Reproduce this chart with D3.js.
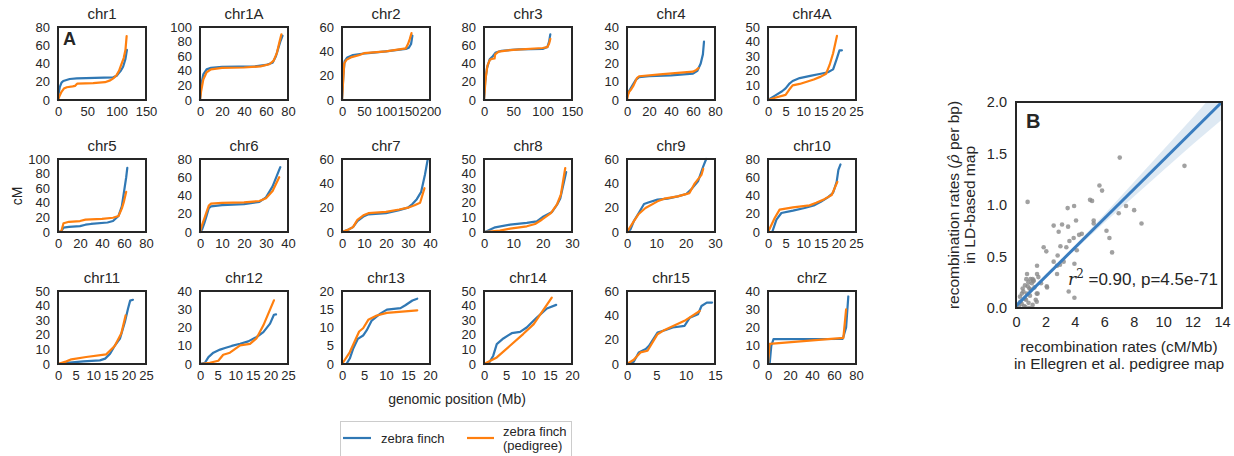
<!DOCTYPE html>
<html>
<head>
<meta charset="utf-8">
<script src="https://cdn.jsdelivr.net/npm/d3@7"></script>
<style>
  body { margin: 0; background: #fff; }
  svg text { font-family: "Liberation Sans", Arial, sans-serif; fill: #262626; }
</style>
</head>
<body>
<svg id="fig" width="1234" height="456"></svg>
<script>
// ---- Panel A: genetic map (cM) vs physical position (Mb) per chromosome ----
const chromosomes = ["chr1", "chr1A", "chr2", "chr3", "chr4", "chr4A",
                     "chr5", "chr6", "chr7", "chr8", "chr9", "chr10",
                     "chr11", "chr12", "chr13", "chr14", "chr15", "chrZ"];
const xMax  = [150, 80, 200, 150, 80, 25, 80, 40, 40, 30, 30, 25, 25, 25, 20, 20, 15, 80];
const xStep = [50, 20, 50, 50, 20, 5, 20, 10, 10, 10, 10, 5, 5, 5, 5, 5, 5, 20];
const yMax  = [80, 100, 60, 80, 40, 50, 100, 80, 60, 50, 60, 80, 50, 40, 20, 50, 60, 40];
const yStep = [20, 20, 20, 20, 10, 10, 20, 20, 20, 10, 20, 20, 10, 10, 5, 10, 20, 10];

// LD-based map, [Mb, cM]
const ldMap = [
  [[0,0],[1,7],[3,14],[6,19],[9,20.8],[20,23],[32,23.7],[94,24.8],[100,26.5],[103,29],[107,32],[111,36.5],[115,45],[117.5,55]],
  [[0,0],[1,20],[3,35],[6,42],[10,44],[20,45.5],[50,46],[60,48],[66,51],[69,60],[71,70],[73,80],[75,88]],
  [[0,0],[3,20],[6,32],[12,35],[25,37],[45,38],[60,38.5],[100,40],[145,42],[152,43],[157,46],[160,53]],
  [[0,0],[2,20],[5,35],[10,45],[15,48],[20,52],[30,54],[60,55.5],[100,56],[108,58],[111,64],[113,72]],
  [[0,2],[2,5],[5,8],[8,11],[11,12.5],[20,13],[40,13.5],[60,14.5],[64,16],[67,20],[69,25],[70,32]],
  [[0,0],[2,3],[4,6],[5,8],[6,11],[7,13],[9,15],[12,16.5],[15,18],[17,19],[18.5,21],[19.5,28],[20.3,34],[21,34]],
  [[0,0],[3,1],[5,6],[10,7],[20,8],[25,10],[30,11],[45,13],[50,15],[55,22],[58,35],[60,55],[62,75],[63,88]],
  [[0,0],[1,3],[2,10],[3,18],[4,26],[5,28],[10,29.5],[20,30.5],[27,33],[30,38],[33,50],[35,62],[36.5,71]],
  [[0,0],[3,2],[5,4],[7,9],[10,13],[12,14.5],[20,15.5],[26,18],[30,20],[32,23],[34,27],[36,33],[37.7,47],[39,60]],
  [[0,0],[0.9,0.5],[3.8,3.2],[8.9,5],[14.6,6.2],[18,7.3],[20.3,10.7],[23.2,13.7],[24.9,18.7],[26,23],[28,41]],
  [[0,0],[1.15,1.9],[2.3,8.8],[4,15.6],[5.8,23],[7.5,24.4],[10.4,26.6],[13.8,27.4],[17.3,29.3],[20.2,31.2],[21.9,35],[24.2,41.6],[26,54],[27,60]],
  [[0,0],[1.2,0],[2.4,13.5],[3.8,20.8],[7.1,23.4],[10.4,26.3],[13,29],[15,33],[17,38],[18.5,43],[19.5,55],[20,68],[20.6,74]],
  [[0,0],[3.3,0.9],[7.2,1.8],[11.9,2.5],[13.4,3.7],[14.8,7],[16.2,12.8],[17.6,17.4],[19,28.8],[19.9,38],[20.5,43.4],[21.3,44]],
  [[0,0],[1.4,0.7],[2.4,3.8],[3.8,6.2],[5.7,7.9],[7.1,8.8],[9,9.9],[11.4,11.1],[13.7,12.4],[16.1,14.8],[18,17.5],[19.9,22.1],[21,27],[21.6,27.2]],
  [[0,0],[1,0],[1.77,1.5],[2.5,4.1],[3.6,6.9],[4.8,7.8],[5.6,9.2],[6.75,11.9],[8.7,13.8],[10.2,14.9],[13.3,15.3],[14.4,16.1],[16,17.4],[17.1,17.9]],
  [[0,0],[1,0],[2.1,5.7],[2.9,13.6],[4.4,17.5],[6.3,21.1],[8.2,22],[9.7,25],[12,31.8],[14.3,38],[16.4,40.5]],
  [[0,0],[1.15,1.9],[2,9.5],[3.2,12.3],[3.75,15],[5.2,25.9],[6.6,28],[7.8,30],[9.8,31.4],[10.7,38],[12.1,40.9],[12.7,47.7],[13.6,50.5],[14.5,50.5]],
  [[0,0],[1.5,0],[3,10],[5,13.6],[68,13.8],[71,20],[73,37]]
];

// Pedigree map, [Mb, cM]
const pedigreeMap = [
  [[0,0],[3,5],[6,9],[10,12.5],[15,14],[25,15],[29,15.5],[33,18],[60,18.5],[80,19.5],[89,21.5],[95,24],[100,27.5],[104,32],[108,39],[112,46],[115,55],[117,70]],
  [[0,0],[1,12],[3,28],[6,38],[10,42],[20,44],[40,44.5],[55,46],[63,49],[67,54],[70,65],[72,78],[74,90]],
  [[0,0],[5,30],[10,33],[20,35],[40,37],[50,38.5],[100,40],[145,42.5],[150,46],[154,50],[158,55]],
  [[0,0],[3,25],[6,38],[10,44],[13,45],[18,45.5],[19,50],[25,53],[50,55],[100,57],[108,58],[111,62],[113,67]],
  [[0,0],[1,3],[2,4.5],[4,6],[6,8],[9,12],[11,13],[30,14],[60,15.5],[63,16.5],[65,17.5]],
  [[0,0],[2,1.5],[5,3.5],[6,7],[7,10],[9,11],[11,12.5],[13,14],[15,16],[16.5,18],[17.5,24],[18.5,32],[19.6,44]],
  [[0,0],[3,1],[5,12],[10,14],[20,15],[25,17],[40,18],[50,19.5],[55,22],[58,32],[60,42],[62,55]],
  [[0,0],[1,8],[2,15],[3,22],[4,29],[5,31],[10,32],[20,32.5],[27,34],[30,37],[33,45],[36,60]],
  [[0,0],[3,2],[5,4],[7,10],[10,14],[12,15.5],[20,16.5],[26,18.5],[30,20],[33,22],[35.5,24],[36.5,30],[37.5,36]],
  [[0,0],[5.4,0.9],[8.9,2.3],[14.6,3.9],[17.4,5.5],[19.7,8.4],[22.8,13],[24.9,19],[26.2,25.6],[27.7,43.8]],
  [[0,0],[2.3,8.8],[4,14.8],[6.3,19.7],[10.4,25.2],[12.7,27.4],[17.3,29.3],[21.3,32],[23.1,40],[25.4,47],[26,52]],
  [[0,0],[1,8],[1.9,15.3],[3.3,24.5],[7.1,27],[11.8,29.2],[13.7,32],[16,36],[18.1,40.5],[19.7,55]],
  [[0,0],[2.4,1.8],[3.8,3.2],[8,4.8],[13.7,6.6],[16.1,12.3],[18,21],[19.2,33.3]],
  [[0,0],[2.8,0.7],[5.2,1.8],[6.6,5.1],[8.5,6.2],[11.4,10.2],[14.2,11],[16.1,14.2],[18,21.2],[21,34.9]],
  [[0,0],[1.76,3.2],[3.9,8.9],[4.8,9.8],[5.97,12.1],[7.9,13.3],[10.2,14],[17.1,14.7]],
  [[0,0],[2.9,4.5],[5.9,12.5],[8.9,20.5],[11.3,27.3],[12.8,34],[15.4,45.5]],
  [[0,0],[1.15,3.5],[2.3,9.5],[3.5,10.9],[5.2,24.5],[6.4,28],[9.8,35.5],[12.4,43.6]],
  [[0,0],[1.5,11],[68.5,14.3],[71,30]]
];

const seriesNames = ["zebra finch", "zebra finch\n(pedigree)"];

// ---- Panel B: recombination rate comparison ----
// [pedigree cM/Mb, LD-based rho per bp]
const ratePoints = [
  [0.79,1.03],[7.05,1.46],[11.45,1.38],[5.67,1.19],[5.85,1.14],[5.03,1.05],[5.17,1.04],[3.95,0.99],
  [3.51,0.97],[7.48,0.99],[8.03,0.95],[6.98,0.92],[5.28,0.85],[4.08,0.85],[8.53,0.82],[5.28,0.82],
  [2.56,0.80],[3.13,0.81],[3.54,0.79],[6.15,0.75],[6.35,0.68],[6.53,0.54],[4.47,0.72],[4.29,0.71],
  [3.92,0.68],[2.90,0.74],[1.88,0.59],[2.06,0.55],[3.02,0.60],[3.42,0.59],[3.63,0.65],[4.13,0.56],
  [2.83,0.51],[2.56,0.45],[2.79,0.41],[3.97,0.43],[3.24,0.45],[2.99,0.42],[1.43,0.41],[1.43,0.33],
  [1.52,0.30],[0.75,0.33],[0.98,0.28],[1.13,0.28],[1.20,0.27],[0.84,0.25],[1.07,0.24],[1.18,0.26],
  [1.70,0.24],[0.61,0.22],[2.11,0.20],[2.09,0.21],[0.91,0.19],[0.50,0.16],[0.73,0.14],[1.41,0.14],
  [1.47,0.14],[3.58,0.16],[3.97,0.10],[2.79,0.33],[1.34,0.08],[0.27,0.11],[1.41,0.06],[0.68,0.08],
  [1.13,0.03],[0.39,0.04],[0.55,0.02],[0.85,0.05],[0.95,0.12],[0.60,0.09],[0.45,0.19],[0.30,0.06],
  [1.00,0.18],[0.70,0.28],[0.20,0.02],[0.90,0.00],[0.65,0.01],[1.25,0.20],[0.40,0.14],[0.80,0.21]
];
const fitX = [0, 14];
const fitY = [0.02, 2.0];
const bandX    = [0, 1, 2, 3, 4, 6, 8, 10, 12, 14];
const bandLow  = [-0.01, 0.146, 0.291, 0.431, 0.566, 0.828, 1.081, 1.334, 1.587, 1.83];
const bandHigh = [0.05, 0.176, 0.315, 0.457, 0.606, 0.908, 1.221, 1.534, 1.847, 2.17];
const rateXTicks = [0, 2, 4, 6, 8, 10, 12, 14];
const rateYTicks = [0.0, 0.5, 1.0, 1.5, 2.0];

// ---- drawing ----
const svg = d3.select("#fig");
const INK = "#262626";
const BLUE = "#3078b4";
const ORANGE = "#ff7f0e";

const colLeft = [58, 200, 342, 484, 627, 768];
const rowTop = [27, 159, 291];
const pw = 88, ph = 73;

function styleAxis(a, size) {
  a.attr("font-size", size).attr("font-family", null).attr("color", INK);
  a.select(".domain").remove();
  a.selectAll("text").style("fill", INK);
}

chromosomes.forEach((name, i) => {
  const c = i % 6, r = Math.floor(i / 6);
  const x0 = colLeft[c], y0 = rowTop[r];
  const x = d3.scaleLinear().domain([0, xMax[i]]).range([x0, x0 + pw]);
  const y = d3.scaleLinear().domain([0, yMax[i]]).range([y0 + ph, y0]);
  const g = svg.append("g").attr("class", "panel");

  g.append("g")
    .attr("transform", `translate(0,${y0 + ph})`)
    .call(d3.axisBottom(x).tickValues(d3.range(0, xMax[i] + 1e-9, xStep[i]))
      .tickSize(0).tickPadding(7).tickFormat(d3.format("d")))
    .call(a => styleAxis(a, 13));

  g.append("g")
    .attr("transform", `translate(${x0},0)`)
    .call(d3.axisLeft(y).tickValues(d3.range(0, yMax[i] + 1e-9, yStep[i]))
      .tickSize(0).tickPadding(8).tickFormat(d3.format("d")))
    .call(a => styleAxis(a, 13));

  const line = d3.line().x(d => x(d[0])).y(d => y(d[1]));
  g.append("path").datum(ldMap[i]).attr("d", line)
    .attr("fill", "none").attr("stroke", BLUE).attr("stroke-width", 2.2)
    .attr("stroke-linejoin", "round").attr("stroke-linecap", "round");
  g.append("path").datum(pedigreeMap[i]).attr("d", line)
    .attr("fill", "none").attr("stroke", ORANGE).attr("stroke-width", 2.2)
    .attr("stroke-linejoin", "round").attr("stroke-linecap", "round");

  g.append("rect").attr("x", x0).attr("y", y0).attr("width", pw).attr("height", ph)
    .attr("fill", "none").attr("stroke", INK).attr("stroke-width", 2);

  g.append("text").attr("x", x0 + pw / 2).attr("y", y0 - 8)
    .attr("text-anchor", "middle").attr("font-size", 15).text(name);
});

svg.append("text").attr("x", 63).attr("y", 45)
  .attr("font-size", 18).attr("font-weight", "bold").text("A");

svg.append("text").attr("transform", "translate(22,196) rotate(-90)")
  .attr("text-anchor", "middle").attr("font-size", 14).text("cM");

svg.append("text").attr("x", 457).attr("y", 404)
  .attr("text-anchor", "middle").attr("font-size", 14).text("genomic position (Mb)");

// legend
const lg = svg.append("g");
lg.append("rect").attr("x", 340.5).attr("y", 421.5).attr("width", 231).attr("height", 50)
  .attr("fill", "#fff").attr("stroke", "#cccccc").attr("stroke-width", 1);
lg.append("line").attr("x1", 343).attr("x2", 371).attr("y1", 438).attr("y2", 438)
  .attr("stroke", BLUE).attr("stroke-width", 2.2);
lg.append("text").attr("x", 381).attr("y", 442.5).attr("font-size", 13).text(seriesNames[0]);
lg.append("line").attr("x1", 467).attr("x2", 494).attr("y1", 438).attr("y2", 438)
  .attr("stroke", ORANGE).attr("stroke-width", 2.2);
const lt = lg.append("text").attr("x", 503).attr("y", 435.5).attr("font-size", 13);
seriesNames[1].split("\n").forEach((s, k) => {
  lt.append("tspan").attr("x", 503).attr("dy", k ? 14.5 : 0).text(s);
});

// ---- panel B ----
const bx0 = 1016, bx1 = 1222, by0 = 102, by1 = 308;
const bx = d3.scaleLinear().domain([0, 14]).range([bx0, bx1]);
const by = d3.scaleLinear().domain([0, 2]).range([by1, by0]);
const gb = svg.append("g");

svg.append("defs").append("clipPath").attr("id", "clipB")
  .append("rect").attr("x", bx0).attr("y", by0).attr("width", bx1 - bx0).attr("height", by1 - by0);

gb.append("g").attr("transform", `translate(0,${by1})`)
  .call(d3.axisBottom(bx).tickValues(rateXTicks).tickSize(0).tickPadding(9).tickFormat(d3.format("d")))
  .call(a => styleAxis(a, 14.5));
gb.append("g").attr("transform", `translate(${bx0},0)`)
  .call(d3.axisLeft(by).tickValues(rateYTicks).tickSize(0).tickPadding(9).tickFormat(d3.format(".1f")))
  .call(a => styleAxis(a, 14.5));

const plotB = gb.append("g").attr("clip-path", "url(#clipB)");
plotB.selectAll("circle").data(ratePoints).join("circle")
  .attr("cx", d => bx(d[0])).attr("cy", d => by(d[1])).attr("r", 2.3)
  .attr("fill", "#8a8a8a").attr("fill-opacity", 0.8);

const band = d3.area().x((d, k) => bx(bandX[k])).y0((d, k) => by(bandLow[k])).y1((d, k) => by(bandHigh[k]));
plotB.append("path").datum(bandX).attr("d", band)
  .attr("fill", BLUE).attr("fill-opacity", 0.16);
plotB.append("line")
  .attr("x1", bx(fitX[0])).attr("y1", by(fitY[0])).attr("x2", bx(fitX[1])).attr("y2", by(fitY[1]))
  .attr("stroke", "#3a7dbf").attr("stroke-width", 3);

gb.append("rect").attr("x", bx0).attr("y", by0).attr("width", bx1 - bx0).attr("height", by1 - by0)
  .attr("fill", "none").attr("stroke", INK).attr("stroke-width", 2);

gb.append("text").attr("x", 1026).attr("y", 128).attr("font-size", 20)
  .attr("font-weight", "bold").text("B");

const ann = gb.append("text").attr("x", 1218).attr("y", 285)
  .attr("text-anchor", "end").attr("font-size", 17);
ann.append("tspan").attr("font-family", "DejaVu Serif").attr("font-style", "italic").text("r");
ann.append("tspan").attr("font-family", "DejaVu Serif").attr("font-size", 12).attr("dy", -7).text("2");
ann.append("tspan").attr("dy", 7).text(" =0.90, p=4.5e-71");

gb.append("text").attr("x", 1119).attr("y", 352).attr("text-anchor", "middle")
  .attr("font-size", 15.5).text("recombination rates (cM/Mb)");
gb.append("text").attr("x", 1119).attr("y", 369).attr("text-anchor", "middle")
  .attr("font-size", 15.5).text("in Ellegren et al. pedigree map");

const yl1 = gb.append("text").attr("transform", "translate(959,205) rotate(-90)")
  .attr("text-anchor", "middle").attr("font-size", 15.5);
yl1.append("tspan").text("recombination rates (");
yl1.append("tspan").attr("font-family", "DejaVu Serif").attr("font-style", "italic").text("ρ\u0302");
yl1.append("tspan").text(" per bp)");
gb.append("text").attr("transform", "translate(975,205) rotate(-90)")
  .attr("text-anchor", "middle").attr("font-size", 15.5).text("in LD-based map");
</script>
</body>
</html>
